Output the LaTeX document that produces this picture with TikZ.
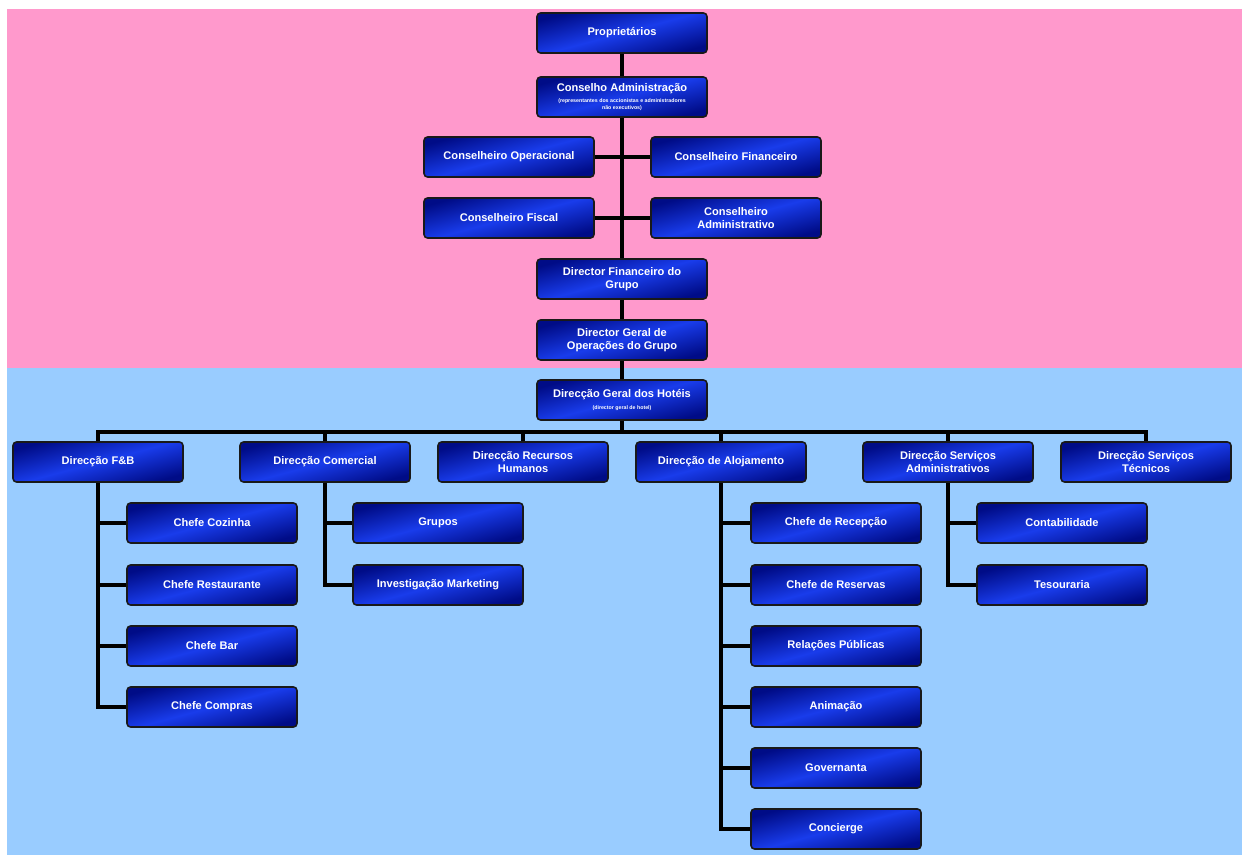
\documentclass[tikz,border=0pt]{standalone}
\usepackage{fontspec}
\setmainfont{Liberation Sans}
\usepackage{xcolor}
\usepackage{tikz}
\usetikzlibrary{positioning, calc}

\definecolor{toppink}{RGB}{255,153,204}
\definecolor{lowblue}{RGB}{153,204,255}
\definecolor{boxdark}{RGB}{0,12,135}
\definecolor{boxlight}{RGB}{25,60,235}

\begin{document}
\begin{tikzpicture}[
    x=0.02cm, y=-0.02cm,
    unit/.style={rectangle, rounded corners=2pt, draw=black!90, line width=0.9pt,
        top color=boxdark, bottom color=boxdark, middle color=boxlight, shading angle=15,
        minimum width=3.4cm, minimum height=0.8cm, align=center, text=white,
        inner sep=1pt, font=\fontsize{6.3}{7.5}\selectfont\bfseries},
    link/.style={line width=2.2pt, black}
]
\useasboundingbox (0,0) rectangle (1242,855);
\fill[toppink] (7,9) rectangle (1242,368);
\fill[lowblue] (7,368) rectangle (1242,855);

\node[unit] (owners) at (622,33) {Proprietários};
\node[unit] (board) at (622,97) {Conselho Administração\\[-1.5pt]\fontsize{3}{3.6}\selectfont (representantes dos accionistas e administradores\\[-3.6pt]\fontsize{3}{3.6}\selectfont não executivos)};
\node[unit] (opcons) at (509,157) {Conselheiro Operacional};
\node[unit] (fincons) at (736,157) {Conselheiro Financeiro};
\node[unit] (fiscons) at (509,218) {Conselheiro Fiscal};
\node[unit] (admcons) at (736,218) {Conselheiro\\Administrativo};
\node[unit] (cfo) at (622,279) {Director Financeiro do\\Grupo};
\node[unit] (coo) at (622,340) {Director Geral de\\Operações do Grupo};
\node[unit] (hotels) at (622,400) {Direcção Geral dos Hotéis\\[-1pt]\fontsize{3}{3.6}\selectfont (director geral de hotel)};

\node[unit] (fb) at (98,462) {Direcção F\&B};
\node[unit] (sales) at (325,462) {Direcção Comercial};
\node[unit] (hr) at (523,462) {Direcção Recursos\\Humanos};
\node[unit] (rooms) at (721,462) {Direcção de Alojamento};
\node[unit] (admin) at (948,462) {Direcção Serviços\\Administrativos};
\node[unit] (tech) at (1146,462) {Direcção Serviços\\Técnicos};

\node[unit] (kitchen) at (212,523) {Chefe Cozinha};
\node[unit] (restaurant) at (212,585) {Chefe Restaurante};
\node[unit] (bar) at (212,646) {Chefe Bar};
\node[unit] (buying) at (212,707) {Chefe Compras};

\node[unit] (groups) at (438,523) {Grupos};
\node[unit] (marketing) at (438,585) {Investigação Marketing};

\node[unit] (reception) at (836,523) {Chefe de Recepção};
\node[unit] (bookings) at (836,585) {Chefe de Reservas};
\node[unit] (pr) at (836,646) {Relações Públicas};
\node[unit] (animation) at (836,707) {Animação};
\node[unit] (housekeeping) at (836,768) {Governanta};
\node[unit] (concierge) at (836,829) {Concierge};

\node[unit] (accounts) at (1062,523) {Contabilidade};
\node[unit] (treasury) at (1062,585) {Tesouraria};

\coordinate (bus) at (0,432);

\draw[link] (owners) -- (board);
\draw[link] (board) -- (cfo);
\draw[link] (cfo) -- (coo);
\draw[link] (coo) -- (hotels);
\draw[link] (opcons.east) -- (opcons.east -| board.south);
\draw[link] (fiscons.east) -- (fiscons.east -| board.south);
\draw[link] (fincons.west) -- (fincons.west -| board.south);
\draw[link] (admcons.west) -- (admcons.west -| board.south);

\draw[link] (hotels.south) -- (hotels.south |- bus);
\draw[link] (fb.north) -- (fb.north |- bus) -- (tech.north |- bus) -- (tech.north);
\draw[link] (sales.north) -- (sales.north |- bus);
\draw[link] (hr.north) -- (hr.north |- bus);
\draw[link] (rooms.north) -- (rooms.north |- bus);
\draw[link] (admin.north) -- (admin.north |- bus);

\draw[link] (fb.south) |- (buying.west);
\draw[link] (kitchen.west) -- (kitchen.west -| fb.south);
\draw[link] (restaurant.west) -- (restaurant.west -| fb.south);
\draw[link] (bar.west) -- (bar.west -| fb.south);

\draw[link] (sales.south) |- (marketing.west);
\draw[link] (groups.west) -- (groups.west -| sales.south);

\draw[link] (rooms.south) |- (concierge.west);
\draw[link] (reception.west) -- (reception.west -| rooms.south);
\draw[link] (bookings.west) -- (bookings.west -| rooms.south);
\draw[link] (pr.west) -- (pr.west -| rooms.south);
\draw[link] (animation.west) -- (animation.west -| rooms.south);
\draw[link] (housekeeping.west) -- (housekeeping.west -| rooms.south);

\draw[link] (admin.south) |- (treasury.west);
\draw[link] (accounts.west) -- (accounts.west -| admin.south);
\end{tikzpicture}
\end{document}
